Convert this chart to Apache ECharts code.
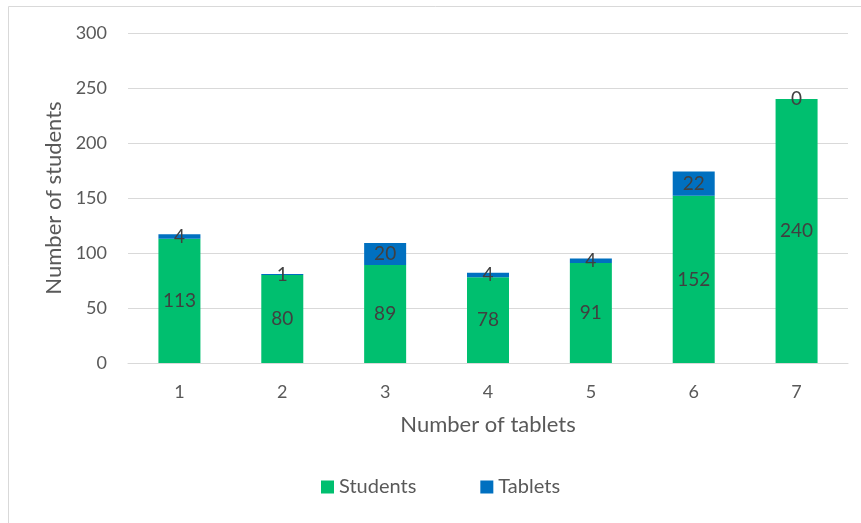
<!DOCTYPE html>
<html>
<head>
<meta charset="utf-8">
<script src="https://cdn.jsdelivr.net/npm/echarts@6/dist/echarts.min.js"></script>
<style>
  html, body { margin: 0; padding: 0; background: #fff; }
  #chart { width: 861px; height: 523px; }
</style>
</head>
<body>
<div id="chart"></div>
<script>
// Number of tablets per household (x categories)
const categories = ['1', '2', '3', '4', '5', '6', '7'];
// Stacked series values
const students = [113, 80, 89, 78, 91, 152, 240];
const tablets = [4, 1, 20, 4, 4, 22, 0];
// Value axis ticks
const yMin = 0, yMax = 300, yStep = 50;

const FONT = 'Lato, "Open Sans", sans-serif';
const GREEN = '#00BF6F';
const BLUE = '#0070C0';

const chart = echarts.init(document.getElementById('chart'), null, { renderer: 'canvas' });

const labelStyle = {
  show: true,
  position: 'inside',
  color: '#404040',
  fontFamily: FONT,
  fontSize: 19
};

chart.setOption({
  animation: false,
  backgroundColor: '#fff',
  textStyle: { fontFamily: FONT },
  graphic: [{
    type: 'rect',
    shape: { x: 8.5, y: 6.5, width: 900, height: 600 },
    style: { fill: 'none', stroke: '#D9D9D9', lineWidth: 1 },
    silent: true,
    z: -10
  }],
  grid: { left: 128, right: 13, top: 33, bottom: 160, containLabel: false },
  legend: {
    left: 321,
    top: 477,
    padding: 0,
    itemWidth: 13,
    itemHeight: 13,
    itemGap: 64,
    icon: 'rect',
    textStyle: { color: '#595959', fontSize: 20, fontFamily: FONT },
    data: ['Students', 'Tablets']
  },
  xAxis: {
    type: 'category',
    data: categories,
    name: 'Number of tablets',
    nameLocation: 'middle',
    nameGap: 51,
    nameTextStyle: { color: '#595959', fontSize: 22, fontFamily: FONT },
    axisLine: { lineStyle: { color: '#D9D9D9', width: 1 } },
    axisTick: { show: false },
    axisLabel: { color: '#595959', fontSize: 18, margin: 20, fontFamily: FONT }
  },
  yAxis: {
    type: 'value',
    min: yMin,
    max: yMax,
    interval: yStep,
    name: 'Number of students',
    nameLocation: 'middle',
    nameGap: 63,
    nameRotate: 90,
    nameTextStyle: { color: '#595959', fontSize: 22, fontFamily: FONT },
    axisLine: { show: false },
    axisTick: { show: false },
    splitLine: { lineStyle: { color: '#D9D9D9', width: 1 } },
    axisLabel: { color: '#595959', fontSize: 18, margin: 21, fontFamily: FONT }
  },
  series: [
    {
      name: 'Students',
      type: 'bar',
      stack: 'total',
      barWidth: 42,
      itemStyle: { color: GREEN },
      label: labelStyle,
      data: students
    },
    {
      name: 'Tablets',
      type: 'bar',
      stack: 'total',
      barWidth: 42,
      itemStyle: { color: BLUE },
      label: labelStyle,
      data: tablets
    }
  ]
});
</script>
</body>
</html>
